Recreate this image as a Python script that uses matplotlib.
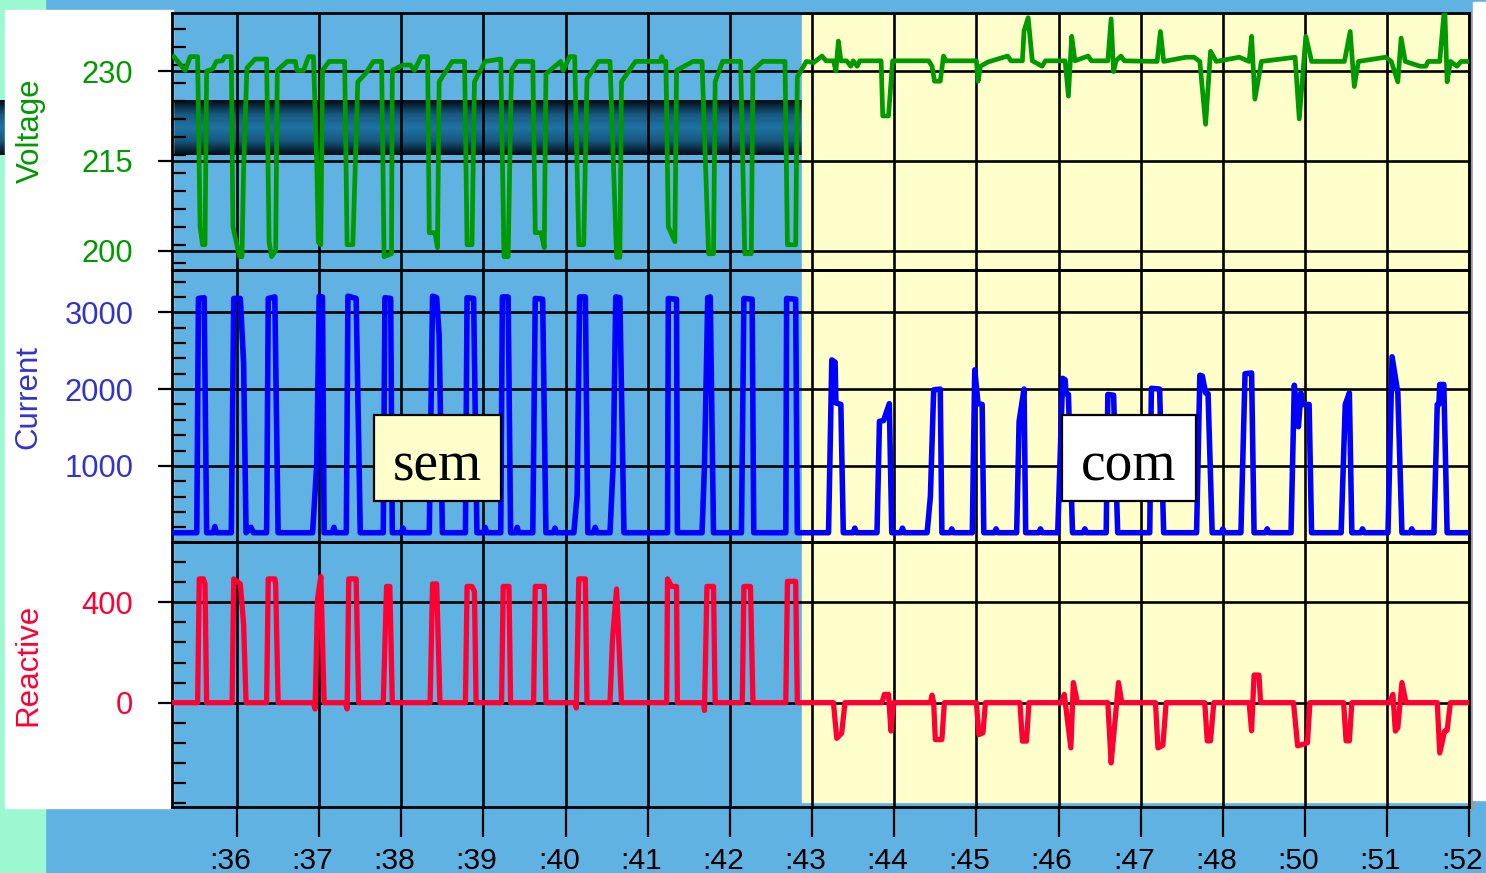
import matplotlib
matplotlib.use("Agg")
import numpy as np
import matplotlib.pyplot as plt
import matplotlib.ticker as mticker
from matplotlib.patches import Rectangle
from matplotlib.colors import LinearSegmentedColormap
from matplotlib.transforms import ScaledTranslation

plt.rcParams['font.family'] = ['Liberation Sans', 'DejaVu Sans']

# tick labels along the time axis (positions 0..15)
tick_labels = [":36", ":37", ":38", ":39", ":40", ":41", ":42", ":43",
               ":44", ":45", ":46", ":47", ":48", ":50", ":51", ":52"]

# (time, volts)
voltage_pts = [
    (-0.77, 232.4), (-0.63, 230.1), (-0.57, 232.4), (-0.48, 232.4), (-0.45, 204.0), (-0.42, 201.0),
    (-0.39, 201.0), (-0.37, 230.0), (-0.30, 230.3), (-0.25, 231.6), (-0.18, 231.7), (-0.15, 232.4),
    (-0.07, 232.4), (-0.05, 204.0), (0.03, 199.0), (0.06, 199.0), (0.08, 213.6), (0.12, 230.5),
    (0.22, 232.0), (0.36, 232.0), (0.39, 201.5), (0.42, 199.0), (0.47, 200.0), (0.49, 230.1),
    (0.61, 231.6), (0.71, 231.6), (0.73, 230.1), (0.81, 230.1), (0.87, 232.4), (0.93, 232.4),
    (0.97, 215.0), (0.99, 201.4), (1.02, 201.0), (1.04, 230.1), (1.12, 231.6), (1.31, 231.6),
    (1.34, 201.0), (1.41, 201.0), (1.47, 228.2), (1.56, 229.5), (1.66, 231.6), (1.76, 231.6),
    (1.79, 199.0), (1.88, 199.5), (1.89, 230.1), (2.02, 231.0), (2.11, 231.0), (2.16, 230.1),
    (2.24, 232.4), (2.32, 232.4), (2.34, 203.0), (2.41, 203.0), (2.44, 200.5), (2.46, 228.2),
    (2.62, 231.6), (2.77, 231.6), (2.80, 201.0), (2.86, 201.0), (2.89, 228.2), (3.02, 231.6),
    (3.21, 232.0), (3.25, 199.0), (3.30, 199.0), (3.34, 230.1), (3.41, 231.6), (3.60, 231.6),
    (3.63, 203.0), (3.70, 203.0), (3.74, 200.5), (3.76, 229.5), (3.94, 231.6), (3.97, 230.1),
    (4.05, 232.4), (4.11, 232.4), (4.16, 201.0), (4.22, 201.0), (4.26, 228.7), (4.40, 231.6),
    (4.54, 231.6), (4.62, 198.9), (4.66, 198.9), (4.68, 228.2), (4.85, 231.6), (5.15, 231.6),
    (5.17, 232.4), (5.19, 231.6), (5.22, 231.6), (5.25, 204.0), (5.33, 201.5), (5.35, 230.1),
    (5.55, 231.6), (5.66, 231.6), (5.74, 199.5), (5.80, 199.5), (5.82, 228.2), (5.91, 231.6),
    (6.13, 231.6), (6.18, 199.5), (6.26, 199.5), (6.28, 230.1), (6.40, 231.6), (6.67, 231.6),
    (6.70, 201.0), (6.80, 201.0), (6.82, 229.0), (6.93, 231.6), (7.02, 231.4), (7.12, 232.5),
    (7.17, 231.7), (7.26, 231.7), (7.29, 230.0), (7.32, 235.0), (7.35, 231.7), (7.42, 231.7),
    (7.47, 230.8), (7.50, 231.7), (7.55, 230.8), (7.58, 231.7), (7.84, 231.7), (7.86, 222.5),
    (7.93, 222.5), (7.98, 231.7), (8.42, 231.7), (8.46, 230.8), (8.49, 228.3), (8.56, 228.3),
    (8.60, 232.5), (8.63, 231.7), (9.00, 231.7), (9.02, 228.3), (9.05, 230.8), (9.14, 231.5),
    (9.38, 232.5), (9.42, 231.7), (9.56, 231.7), (9.58, 236.7), (9.63, 238.9), (9.68, 231.7),
    (9.80, 230.8), (9.84, 231.7), (10.08, 231.7), (10.12, 225.8), (10.16, 235.8), (10.20, 231.7),
    (10.36, 232.5), (10.40, 231.7), (10.60, 231.7), (10.64, 238.7), (10.67, 229.9), (10.70, 231.7),
    (10.76, 232.5), (10.80, 231.7), (11.20, 231.6), (11.24, 236.6), (11.28, 231.6), (11.55, 232.3),
    (11.65, 232.3), (11.72, 231.6), (11.79, 221.1), (11.85, 233.3), (11.92, 231.6), (12.20, 232.3),
    (12.32, 231.6), (12.35, 235.8), (12.39, 225.3), (12.47, 231.6), (12.88, 232.3), (12.93, 222.0),
    (13.01, 235.8), (13.08, 231.6), (13.48, 231.6), (13.55, 236.6), (13.60, 227.4), (13.65, 231.6),
    (13.98, 232.3), (14.05, 231.6), (14.13, 228.2), (14.17, 235.5), (14.22, 231.6), (14.40, 230.8),
    (14.47, 230.8), (14.50, 231.6), (14.64, 231.6), (14.70, 241.0), (14.73, 228.2), (14.77, 231.6),
    (14.85, 230.8), (14.90, 231.6), (14.98, 231.6),
]

# (time, amps)
current_pts = [
    (-0.77, 130), (-0.49, 130), (-0.47, 3180), (-0.40, 3190), (-0.37, 130), (-0.29, 130), (-0.27, 210),
    (-0.25, 130), (-0.07, 130), (-0.04, 3180), (0.04, 3180), (0.08, 2340), (0.11, 130), (0.17, 200),
    (0.20, 130), (0.36, 130), (0.38, 3180), (0.46, 3200), (0.50, 130), (0.92, 130), (0.97, 1020),
    (1.00, 3210), (1.04, 3200), (1.06, 130), (1.16, 130), (1.18, 200), (1.20, 130), (1.33, 130),
    (1.35, 3210), (1.45, 3180), (1.50, 130), (1.78, 130), (1.80, 3190), (1.87, 3180), (1.89, 130),
    (2.00, 130), (2.02, 190), (2.04, 130), (2.34, 130), (2.38, 3210), (2.43, 3190), (2.46, 2700),
    (2.50, 130), (2.78, 130), (2.80, 3190), (2.88, 3180), (2.92, 130), (3.00, 130), (3.02, 200),
    (3.04, 130), (3.21, 130), (3.23, 3200), (3.30, 3200), (3.33, 130), (3.39, 130), (3.41, 200),
    (3.43, 130), (3.60, 130), (3.63, 3180), (3.72, 3170), (3.76, 130), (3.85, 130), (3.87, 190),
    (3.89, 130), (4.10, 130), (4.14, 620), (4.17, 3200), (4.24, 3200), (4.27, 130), (4.34, 130),
    (4.36, 200), (4.38, 130), (4.54, 130), (4.58, 1050), (4.61, 3200), (4.66, 3190), (4.71, 130),
    (5.24, 130), (5.25, 3180), (5.35, 3170), (5.36, 130), (5.66, 130), (5.69, 1000), (5.73, 3190),
    (5.76, 3200), (5.80, 130), (6.14, 130), (6.17, 3180), (6.27, 3170), (6.29, 130), (6.68, 130),
    (6.69, 3180), (6.80, 3170), (6.82, 130), (7.20, 130), (7.24, 2380), (7.28, 2350), (7.29, 1820),
    (7.35, 1800), (7.38, 130), (7.50, 130), (7.52, 190), (7.54, 130), (7.79, 130), (7.82, 1580),
    (7.87, 1590), (7.94, 1810), (7.97, 130), (8.08, 130), (8.10, 190), (8.12, 130), (8.40, 130),
    (8.44, 600), (8.48, 1990), (8.56, 2000), (8.58, 130), (8.68, 130), (8.70, 180), (8.72, 130),
    (8.95, 130), (8.98, 2250), (9.02, 1810), (9.07, 1800), (9.09, 130), (9.22, 130), (9.24, 180),
    (9.26, 130), (9.49, 130), (9.52, 1580), (9.58, 2000), (9.60, 130), (9.76, 130), (9.78, 180),
    (9.80, 130), (9.99, 130), (10.05, 2140), (10.08, 2120), (10.09, 1940), (10.12, 1930),
    (10.17, 130), (10.30, 130), (10.32, 180), (10.34, 130), (10.58, 130), (10.60, 1930),
    (10.67, 1920), (10.72, 130), (11.11, 130), (11.13, 2010), (11.23, 2000), (11.28, 130),
    (11.68, 130), (11.72, 2180), (11.75, 2170), (11.79, 1950), (11.82, 1940), (11.87, 130),
    (11.98, 130), (12.00, 180), (12.02, 130), (12.22, 130), (12.27, 2200), (12.35, 2210),
    (12.38, 130), (12.52, 130), (12.54, 180), (12.56, 130), (12.83, 130), (12.87, 2050),
    (12.92, 1510), (12.95, 1950), (12.96, 1800), (13.05, 1800), (13.08, 130), (13.44, 130),
    (13.49, 1800), (13.54, 1950), (13.57, 130), (13.68, 130), (13.70, 180), (13.72, 130),
    (14.01, 130), (14.06, 2420), (14.13, 1950), (14.18, 130), (14.28, 130), (14.30, 180),
    (14.32, 130), (14.57, 130), (14.61, 1800), (14.63, 1800), (14.64, 2060), (14.69, 2060),
    (14.73, 130), (14.97, 130),
]

# (time, reactive power)
reactive_pts = [
    (-0.77, 0), (-0.48, 0), (-0.46, 493), (-0.41, 493), (-0.39, 473), (-0.37, 0), (-0.06, 0),
    (-0.04, 493), (0.04, 473), (0.08, 312), (0.11, 0), (0.36, 0), (0.38, 493), (0.46, 493),
    (0.47, 473), (0.50, 0), (0.93, 0), (0.95, -25), (0.98, 412), (1.02, 503), (1.06, 0),
    (1.32, 0), (1.34, -25), (1.36, 493), (1.45, 493), (1.48, 0), (1.78, 0), (1.82, 463),
    (1.86, 463), (1.89, 0), (2.35, 0), (2.38, 473), (2.43, 473), (2.47, 0), (2.78, 0),
    (2.80, 463), (2.86, 463), (2.89, 443), (2.91, 0), (3.22, 0), (3.24, 463), (3.31, 463),
    (3.33, 0), (3.61, 0), (3.63, 463), (3.74, 463), (3.76, 0), (4.12, 0), (4.13, -21),
    (4.16, 493), (4.24, 493), (4.26, 0), (4.54, 0), (4.57, 250), (4.62, 453), (4.68, 0),
    (5.23, 0), (5.24, 493), (5.29, 463), (5.35, 463), (5.36, 0), (5.68, 0), (5.69, -31),
    (5.72, 463), (5.80, 463), (5.82, 0), (6.15, 0), (6.17, 463), (6.25, 463), (6.28, 0),
    (6.68, 0), (6.70, 483), (6.80, 483), (6.82, 0), (7.26, 0), (7.30, -142), (7.36, -121),
    (7.40, 0), (7.85, 0), (7.88, 33), (7.93, 33), (7.96, -113), (7.99, 0), (8.44, 0),
    (8.46, 30), (8.48, 0), (8.50, -147), (8.58, -147), (8.61, 0), (9.00, 0), (9.03, -127),
    (9.08, -120), (9.11, 0), (9.53, 0), (9.56, -153), (9.61, -153), (9.64, 0), (10.04, 0),
    (10.07, 33), (10.15, -180), (10.18, 80), (10.23, 0), (10.60, 0), (10.64, -240),
    (10.68, -100), (10.73, 80), (10.77, 0), (11.18, 0), (11.21, -180), (11.27, -170),
    (11.31, 0), (11.78, 0), (11.81, -152), (11.85, -152), (11.89, 0), (12.32, 0),
    (12.35, -112), (12.38, 110), (12.44, 110), (12.46, 0), (12.86, 0), (12.91, -172),
    (13.03, -160), (13.06, 0), (13.47, 0), (13.50, -152), (13.54, -152), (13.57, 0),
    (14.03, 0), (14.07, 33), (14.10, -113), (14.13, -100), (14.18, 80), (14.23, 0),
    (14.61, 0), (14.64, -200), (14.70, -113), (14.73, -110), (14.77, 0), (14.98, 0),
]

volt_t, volt_v = zip(*voltage_pts)
curr_t, curr_a = zip(*current_pts)
reac_t, reac_q = zip(*reactive_pts)

GREEN = "#009900"
BLUE = "#0000ff"
BLUE_TXT = "#3333cc"
RED = "#ff0033"
SKY = "#5fb2e1"
YELLOW = "#ffffcc"
MINT = "#9cf8d0"

W, H = 1486, 873
fig = plt.figure(figsize=(W / 100, H / 100), dpi=100)
fig.patch.set_facecolor(SKY)

# slide background, drawn in pixel units
bg = fig.add_axes([0, 0, 1, 1])
bg.axis("off")
bg.add_patch(Rectangle((0, 0), 45, H, color=MINT))
band = LinearSegmentedColormap.from_list("band", ["#020c16", "#17577e", "#1f74a4", "#17577e", "#020c16"])
bg.imshow(np.linspace(0, 1, 64).reshape(-1, 1), cmap=band, aspect="auto",
          extent=(0, 802, 155, 100), zorder=1)
bg.add_patch(Rectangle((5, 10), 168, 798, color="white", zorder=2))
bg.add_patch(Rectangle((802, 15), 667, 787, color=YELLOW, zorder=2))
bg.add_patch(Rectangle((1469, 12), 4, 796, color="#9a9a9a", zorder=2))
bg.add_patch(Rectangle((1473, 2), 13, 798, color="white", zorder=2))
bg.set_xlim(0, W)
bg.set_ylim(H, 0)

left, right = 172.3 / W, 1469.3 / W


def panel(top, bottom):
    return [left, 1 - bottom / H, right - left, (bottom - top) / H]


ax_v = fig.add_axes(panel(12.5, 269.5))
ax_c = fig.add_axes(panel(269.5, 541.5))
ax_r = fig.add_axes(panel(541.5, 807))

ax_v.plot(volt_t, volt_v, color=GREEN, lw=3.4, solid_joinstyle="round", zorder=3)
ax_c.plot(curr_t, curr_a, color=BLUE, lw=4.0, solid_joinstyle="round", zorder=3)
ax_r.plot(reac_t, reac_q, color=RED, lw=3.8, solid_joinstyle="round", zorder=3)

ax_v.set_ylim(196.86, 239.77)
ax_c.set_ylim(15.6, 3557)
ax_r.set_ylim(-415.5, 642)

settings = [
    (ax_v, [200, 215, 230], 3, GREEN),
    (ax_c, [1000, 2000, 3000], 200, BLUE_TXT),
    (ax_r, [0, 400], 80, RED),
]
for ax, majors, minor_step, col in settings:
    ax.set_facecolor("none")
    ax.set_axisbelow(True)
    ax.set_xlim(-0.788, 15)
    ax.xaxis.set_major_locator(mticker.FixedLocator(range(len(tick_labels))))
    ax.yaxis.set_major_locator(mticker.FixedLocator(majors))
    ax.yaxis.set_minor_locator(mticker.MultipleLocator(minor_step))
    ax.grid(True, which="major", color="black", lw=1.9)
    for sp in ax.spines.values():
        sp.set_color("black")
        sp.set_linewidth(2.0)
    ax.tick_params(axis="y", which="major", direction="out", length=10, width=1.6,
                   labelsize=22.3, pad=18, labelcolor=col)
    ax.tick_params(axis="y", which="minor", direction="in", length=10, width=1.6)
    ax.tick_params(axis="x", bottom=False, labelbottom=False)

ax_r.tick_params(axis="x", bottom=True, labelbottom=True, direction="out",
                 length=21.6, width=1.6, labelsize=21.6, pad=7)
ax_r.set_xticklabels(tick_labels)
shift = ScaledTranslation(-7 / 100, 0, fig.dpi_scale_trans)
for lab in ax_r.get_xticklabels():
    lab.set_transform(lab.get_transform() + shift)

# annotation boxes
for x0, x1, txt, face in [(0.1555, 0.2534, "sem", YELLOW), (0.6859, 0.7890, "com", "white")]:
    ax_c.add_patch(Rectangle((x0, 0.149), x1 - x0, 0.316, transform=ax_c.transAxes,
                             facecolor=face, edgecolor="black", lw=1.6, zorder=6, clip_on=False))
    ax_c.text((x0 + x1) / 2, 0.225, txt, transform=ax_c.transAxes, ha="center", va="baseline",
              fontsize=40, family=["Liberation Serif", "DejaVu Serif"], zorder=7)

fig.text(31 / W, 1 - 131 / H, "Voltage", rotation=90, ha="center", va="center",
         fontsize=22.5, color=GREEN)
fig.text(28.5 / W, 1 - 397 / H, "Current", rotation=90, ha="center", va="center",
         fontsize=22.5, color=BLUE_TXT)
fig.text(28.5 / W, 1 - 665 / H, "Reactive", rotation=90, ha="center", va="center",
         fontsize=22.5, color=RED)

fig.savefig("out.png", dpi=100, facecolor=fig.get_facecolor())
